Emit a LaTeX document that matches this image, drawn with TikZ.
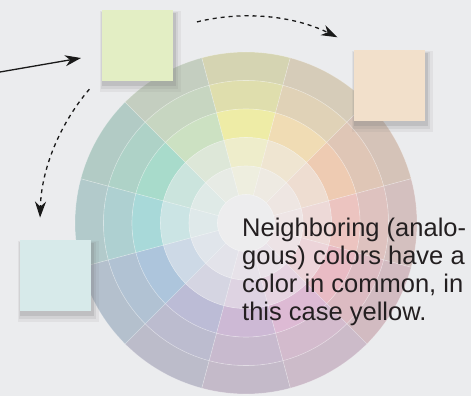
\documentclass[tikz,border=0pt]{standalone}
\usepackage{fontspec}
\setmainfont{Liberation Sans}
\usetikzlibrary{arrows.meta,shadows}

\definecolor{paper}{HTML}{EBECEE}
\definecolor{ringgray}{HTML}{BCBCBE}
\definecolor{tintbase}{HTML}{EEEEEF}
\definecolor{hubgray}{HTML}{EDEDEE}
\definecolor{textgray}{HTML}{231F20}
\definecolor{hueY}{HTML}{EEECA6}
\definecolor{hueYO}{HTML}{F0DCB4}
\definecolor{hueO}{HTML}{EECBB2}
\definecolor{hueRO}{HTML}{ECC4C0}
\definecolor{hueR}{HTML}{E9BBC4}
\definecolor{hueRV}{HTML}{DDBAD4}
\definecolor{hueV}{HTML}{CDB9D5}
\definecolor{hueBV}{HTML}{BCBCD6}
\definecolor{hueB}{HTML}{ADC5DC}
\definecolor{hueBG}{HTML}{A8D9D9}
\definecolor{hueG}{HTML}{A8DBCB}
\definecolor{hueYG}{HTML}{CCE1C2}
\definecolor{sqgreen}{HTML}{E3EEC4}
\definecolor{sqpeach}{HTML}{F2E0CB}
\definecolor{sqcyan}{HTML}{D7EAEA}

\tikzset{
  swatch/.style={minimum size=71pt, inner sep=0pt, fill=#1,
    drop shadow={shadow xshift=2.5pt, shadow yshift=-5.5pt, shadow scale=1.14, opacity=.1},
    drop shadow={shadow xshift=2pt, shadow yshift=-4.5pt, shadow scale=1.08, opacity=.14},
    drop shadow={shadow xshift=1.5pt, shadow yshift=-3.5pt, shadow scale=1.03, opacity=.22}},
  pointer/.style={-{Stealth[length=16pt,width=11pt,inset=5pt]}, line width=1.3pt, black!90},
  hop/.style={pointer, dash pattern=on 4pt off 4pt},
  segment/.style={draw=white, draw opacity=0.3, line width=0.6pt}
}

\begin{document}
\begin{tikzpicture}[x=1pt, y=1pt]
    \useasboundingbox (0,0) rectangle (471,396);
    \fill[paper] (0,0) rectangle (471,396);

    \coordinate (wc) at (246,173);
    \foreach \a/\c in {90/hueY, 60/hueYO, 30/hueO, 0/hueRO, -30/hueR, -60/hueRV,
                       -90/hueV, -120/hueBV, -150/hueB, 180/hueBG, 150/hueG, 120/hueYG} {
        \foreach \ro/\ri/\m in {171/142.5/50!ringgray, 142.5/114/70!ringgray, 114/85.5/100,
                                85.5/57/50!tintbase, 57/28.5/22!tintbase} {
            \path[segment, fill=\c!\m] ([shift={(\a-15:\ro)}]wc) arc[start angle=\a-15, end angle=\a+15, radius=\ro]
                -- ([shift={(\a+15:\ri)}]wc) arc[start angle=\a+15, end angle=\a-15, radius=\ri] -- cycle;
        }
    }
    \path[segment, fill=hubgray] (wc) circle[radius=28.5];

    \node[swatch=sqgreen] (green) at (137.5,350.5) {};
    \node[swatch=sqpeach] (peach) at (389.5,310.5) {};
    \node[swatch=sqcyan] (cyan) at (55.5,120.5) {};

    \node[anchor=base west, align=left, inner sep=0pt, text=textgray,
          font=\fontsize{25.5}{28}\selectfont] (note) at (242,75)
          {Neighboring (analo-\\gous) colors have a\\color in common, in\\this case yellow.};

    \coordinate (feed) at (0,324);
    \coordinate (feedend) at (81,338);
    \coordinate (hopA) at ([shift={(103.7:207)}]wc);
    \coordinate (hopB) at ([shift={(139.5:206)}]wc);

    \draw[pointer] (feed) -- (feedend);
    \draw[hop] (hopA) arc[start angle=103.7, end angle=63.8, radius=207];
    \draw[hop] (hopB) arc[start angle=139.5, end angle=178.5, radius=206];
\end{tikzpicture}
\end{document}
